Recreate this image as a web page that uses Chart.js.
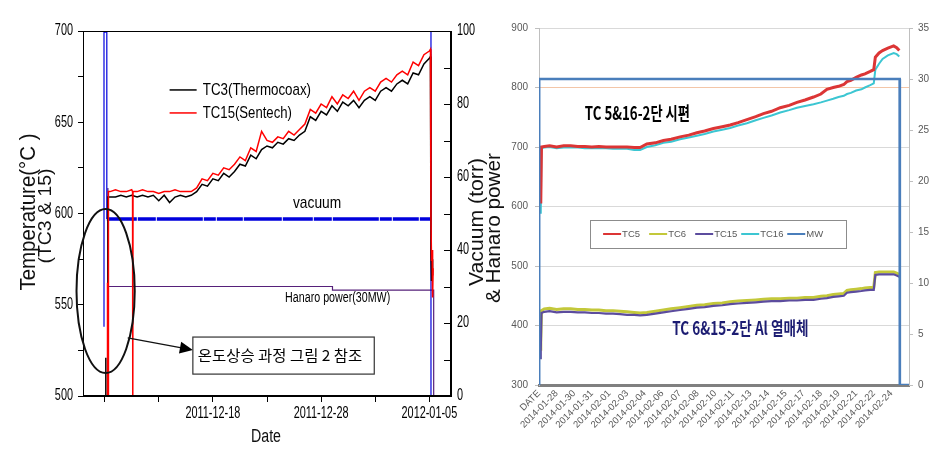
<!DOCTYPE html>
<html>
<head>
<meta charset="utf-8">
<script src="https://cdn.jsdelivr.net/npm/chart.js@4.4.1/dist/chart.umd.min.js"></script>
<style>
    body { margin: 0; background: #ffffff; }
    #wrap { position: relative; width: 952px; height: 452px; overflow: hidden; }
    #left_chart { position: absolute; left: 0; top: 0; }
    #right_chart { position: absolute; left: 480px; top: 0; }
</style>
</head>
<body>
<div id="wrap">
    <canvas id="left_chart" width="505" height="452"></canvas>
    <canvas id="right_chart" width="472" height="452"></canvas>
</div>
<script>
// ---- left chart : 2011-12 ~ 2012-01 (x = days from first tick) ----
const leftTickDays = [0, 5, 10, 15, 20, 25, 30];
const leftTickLabels = ['', '', '2011-12-18', '', '2011-12-28', '', '2012-01-05'];

const tc3Days = [0.1, 0.1, 0.12, 0.3, 0.3, 0.5, 1, 1.5, 2, 2.5, 3, 3.5, 4, 4.5, 5, 5.5, 6, 6.5, 7, 7.5, 8, 8.5, 9, 9.5,
    10, 10.5, 11, 11.5, 12, 12.5, 13, 13.5, 14, 14.5, 15, 15.5, 16, 16.5, 17, 17.5, 18, 18.5, 19, 19.5, 20, 20.5,
    21, 21.5, 22, 22.5, 23, 23.5, 24, 24.5, 25, 25.5, 26, 26.5, 27, 27.5, 28, 28.5, 29, 29.5, 30,
    30.1, 30.15, 30.2, 30.25, 30.3];
const tc3Temp = [500, 521, 500, 500, 609, 609, 609, 610, 609, 610, 609, 610, 609, 610, 607, 610, 606, 609, 610, 609, 610, 612, 616, 615,
    619, 618, 622, 620, 623, 627, 626, 632, 630, 635, 637, 636, 639, 638, 641, 640, 643, 645, 653, 651, 656, 654,
    659, 656, 661, 659, 662, 658, 662, 664, 662, 667, 669, 667, 671, 673, 671, 677, 676, 682, 685,
    686, 578, 563, 575, 566];

const tc15Days = [0.25, 0.25, 0.28, 0.35, 0.35, 0.5, 1, 1.5, 2, 2.5, 2.58, 2.6, 2.62, 3, 3.5, 4, 4.5, 5, 5.5, 6, 6.5, 7, 7.5, 8, 8.5, 9, 9.5,
    10, 10.5, 11, 11.5, 12, 12.5, 13, 13.5, 14, 14.5, 15, 15.5, 16, 16.5, 17, 17.5, 18, 18.5, 19, 19.5, 20, 20.5,
    21, 21.5, 22, 22.5, 23, 23.5, 24, 24.5, 25, 25.5, 26, 26.5, 27, 27.5, 28, 28.5, 29, 29.5, 30,
    30.1, 30.15, 30.2, 30.25, 30.3, 30.35];
const tc15Temp = [500, 562, 500, 500, 612, 612, 613, 612, 612, 613, 612, 500, 612, 612, 613, 612, 612, 611, 612, 612, 613, 612, 612, 612, 614, 619, 618,
    622, 621, 625, 624, 627, 631, 629, 636, 634, 645, 640, 639, 642, 641, 645, 643, 646, 649, 657, 655, 660, 658,
    664, 660, 665, 663, 667, 662, 667, 669, 667, 672, 674, 672, 676, 678, 676, 683, 681, 687, 689,
    690, 597, 574, 580, 554, 570];

const vacuumDays = [-0.06, -0.06, 0.2, 0.2, 30.15, 30.15, 30.15];
const vacuumValues = [19, 100, 100, 48.5, 48.5, 100, 0];

const hanaroDays = [0.3, 0.3, 21.05, 21.05, 30.4, 30.4];
const hanaroValues = [57, 30, 30, 29, 29, 0];

// ---- right chart : 2014-01 ~ 2014-02 (x = label slots) ----
const rightTickLabels = ['DATE', '2014-01-28', '2014-01-30', '2014-01-31', '2014-02-01', '2014-02-03', '2014-02-04',
    '2014-02-06', '2014-02-07', '2014-02-08', '2014-02-10', '2014-02-11', '2014-02-13', '2014-02-14', '2014-02-15',
    '2014-02-17', '2014-02-18', '2014-02-19', '2014-02-21', '2014-02-22', '2014-02-24'];

const rightPos = [0.02, 0.06, 0.1, 0.14, 0.3, 0.6, 1.0, 1.4, 1.8, 2.2, 2.6, 3.0, 3.4, 3.8, 4.2, 4.6, 5.0, 5.4, 5.74,
    6.12, 6.6, 7.06, 7.5, 8.01, 8.5, 8.96, 9.4, 9.9, 10.4, 10.85, 11.3, 11.8, 12.3, 12.74, 13.2, 13.69, 14.2, 14.64,
    15.1, 15.58, 16.0, 16.34, 16.7, 17.0, 17.3, 17.48, 17.7, 18.0, 18.3, 18.5, 18.8, 19.0, 19.09, 19.3, 19.5, 19.8,
    20.13, 20.3, 20.45];
const tc5Values = [615, 640, 605, 700, 701, 702, 700, 702, 702, 701, 701, 700, 701, 700, 700, 700, 700, 699, 699,
    705, 707, 711, 713, 717, 720, 724, 727, 731, 734, 737, 741, 746, 751, 756, 760, 766, 770, 775,
    779, 784, 789, 797, 800, 802, 805, 810, 812, 817, 821, 823, 827, 830, 851, 858, 862, 866,
    870, 867, 862];
const tc6Values = [380, 360, 372, 425, 428, 429, 427, 428, 428, 427, 427, 426, 426, 425, 425, 424, 423, 422, 421,
    422, 424, 426, 428, 430, 432, 434, 435, 437, 438, 440, 441, 442, 443, 444, 445, 445, 446, 446,
    447, 447, 449, 450, 452, 453, 454, 459, 460, 461, 462, 463, 464, 464, 489, 490, 490, 490,
    490, 488, 486];
const tc15bValues = [365, 345, 358, 421, 423, 424, 422, 423, 423, 422, 422, 421, 421, 420, 420, 419, 418, 418, 417,
    418, 420, 422, 424, 426, 428, 430, 431, 433, 434, 436, 437, 438, 439, 440, 441, 441, 442, 442,
    443, 443, 445, 446, 448, 449, 450, 455, 456, 457, 458, 459, 460, 460, 485, 486, 486, 486,
    486, 484, 482];
const tc16Values = [598, 622, 588, 698, 699, 700, 698, 699, 699, 699, 698, 698, 698, 698, 697, 697, 697, 695, 695,
    700, 703, 707, 709, 713, 716, 719, 722, 726, 729, 732, 736, 740, 745, 749, 753, 758, 762, 766,
    769, 772, 775, 778, 781, 784, 786, 789, 791, 795, 797, 800, 804, 807, 830, 840, 848, 854,
    858, 856, 852];
const mwPos = [0, 0.01, 20.47, 20.48, 21];
const mwValues = [0, 30, 30, 0, 0];

const plain = "'Liberation Sans', Arial, sans-serif";
const korean = "'Noto Sans CJK KR', 'Noto Sans', sans-serif";
const hidden = 'rgba(0,0,0,0)';

function pts(xs, ys) {
    return xs.map((x, i) => ({x: x, y: ys[i]}));
}

// draw text centred at (cx, cy), squeezed/stretched to the given width
function fitText(ctx, text, cx, cy, width) {
    const w = ctx.measureText(text).width;
    ctx.save();
    ctx.translate(cx, cy);
    ctx.scale(width / w, 1);
    ctx.textAlign = 'center';
    ctx.textBaseline = 'middle';
    ctx.fillText(text, 0, 0);
    ctx.restore();
}

// narrow tick text, like the old plotting program
function narrowText(ctx, text, x, y, align) {
    ctx.save();
    ctx.translate(x, y);
    ctx.scale(0.68, 1);
    ctx.textAlign = align;
    ctx.textBaseline = 'middle';
    ctx.fillText(text, 0, 0);
    ctx.restore();
}

const leftDecor = {
    id: 'leftDecor',
    afterDraw(chart) {
        const ctx = chart.ctx, a = chart.chartArea;
        const sx = chart.scales.x, sy = chart.scales.y, sy1 = chart.scales.y1;
        const px = d => sx.getPixelForValue(d);
        const py = v => sy.getPixelForValue(v);
        ctx.save();

        // frame
        ctx.strokeStyle = '#000';
        ctx.lineWidth = 1;
        ctx.strokeRect(Math.round(a.left) + 0.5, Math.round(a.top) + 0.5,
            Math.round(a.right - a.left) - 1, Math.round(a.bottom - a.top) - 1);

        // inward ticks on the right axis
        ctx.beginPath();
        sy1.ticks.forEach(t => {
            const yy = Math.round(sy1.getPixelForValue(t.value)) + 0.5;
            ctx.moveTo(a.right - 7, yy);
            ctx.lineTo(a.right, yy);
        });
        ctx.stroke();

        // tick labels (narrow)
        ctx.fillStyle = '#000';
        ctx.font = '16px ' + plain;
        sx.ticks.forEach(t => narrowText(ctx, t.label, px(t.value), a.bottom + 18, 'center'));
        sy.ticks.forEach(t => narrowText(ctx, t.label, a.left - 10, py(t.value), 'right'));
        sy1.ticks.forEach(t => narrowText(ctx, t.label, a.right + 6, sy1.getPixelForValue(t.value), 'left'));

        // legend (TC3, TC15)
        const legendRows = [['TC3(Thermocoax)', 667.7, 19.07], ['TC15(Sentech)', 655.1, 17.3]];
        ctx.font = '17px ' + plain;
        legendRows.forEach(row => {
            const ds = chart.data.datasets.find(d => d.label === row[0]);
            const yy = py(row[1]);
            ctx.strokeStyle = ds.borderColor;
            ctx.lineWidth = 1.5;
            ctx.beginPath();
            ctx.moveTo(px(6.0), yy);
            ctx.lineTo(px(8.5), yy);
            ctx.stroke();
            ctx.fillStyle = '#000';
            fitText(ctx, row[0], (px(9.07) + px(row[2])) / 2, yy, px(row[2]) - px(9.07));
        });

        // series notes
        ctx.fillStyle = '#000';
        ctx.font = '17px ' + plain;
        fitText(ctx, 'vacuum', (px(17.4) + px(21.85)) / 2, py(605.8), px(21.85) - px(17.4));
        ctx.font = '14px ' + plain;
        fitText(ctx, 'Hanaro power(30MW)', (px(16.67) + px(26.39)) / 2, py(553.7), px(26.39) - px(16.67));

        // ellipse around start-up
        ctx.strokeStyle = '#111';
        ctx.lineWidth = 2;
        ctx.beginPath();
        ctx.ellipse(px(0.09), py(557.5), px(2.69) - px(0), py(500) - py(544.9), 0, 0, Math.PI * 2);
        ctx.stroke();

        // arrow to the note box
        const ax0 = px(2.13), ay0 = py(531.8), ax1 = px(8.15), ay1 = py(525.2);
        const ang = Math.atan2(ay1 - ay0, ax1 - ax0);
        ctx.lineWidth = 1.3;
        ctx.beginPath();
        ctx.moveTo(ax0, ay0);
        ctx.lineTo(ax1 - 10 * Math.cos(ang), ay1 - 10 * Math.sin(ang));
        ctx.stroke();
        ctx.fillStyle = '#000';
        ctx.beginPath();
        ctx.moveTo(ax1, ay1);
        ctx.lineTo(ax1 - 13 * Math.cos(ang) + 6 * Math.sin(ang), ay1 - 13 * Math.sin(ang) - 6 * Math.cos(ang));
        ctx.lineTo(ax1 - 13 * Math.cos(ang) - 6 * Math.sin(ang), ay1 - 13 * Math.sin(ang) + 6 * Math.cos(ang));
        ctx.closePath();
        ctx.fill();

        // note box
        const bx0 = px(8.15), bx1 = px(24.91), by0 = py(532.3), by1 = py(512);
        ctx.fillStyle = '#fff';
        ctx.fillRect(bx0, by0, bx1 - bx0, by1 - by0);
        ctx.strokeStyle = '#333';
        ctx.lineWidth = 1.2;
        ctx.strokeRect(bx0, by0, bx1 - bx0, by1 - by0);
        ctx.fillStyle = '#000';
        ctx.font = '15px ' + korean;
        fitText(ctx, '온도상승 과정 그림 2 참조', (px(8.61) + px(23.8)) / 2, py(522.5), px(23.8) - px(8.61));

        // axis titles
        ctx.fillStyle = '#111';
        ctx.font = '22px ' + plain;
        ctx.save();
        ctx.translate(29, 212);
        ctx.rotate(-Math.PI / 2);
        fitText(ctx, 'Temperature(°C )', 0, 0, 157);
        ctx.restore();
        ctx.font = '19px ' + plain;
        ctx.save();
        ctx.translate(46, 216);
        ctx.rotate(-Math.PI / 2);
        fitText(ctx, '(TC3 & 15)', 0, 0, 95);
        ctx.restore();
        ctx.font = '20px ' + plain;
        ctx.save();
        ctx.translate(477, 222);
        ctx.rotate(-Math.PI / 2);
        fitText(ctx, 'Vacuum (torr)', 0, 0, 128);
        ctx.restore();
        ctx.save();
        ctx.translate(494, 228);
        ctx.rotate(-Math.PI / 2);
        fitText(ctx, '& Hanaro power', 0, 0, 150);
        ctx.restore();
        ctx.font = '18px ' + plain;
        fitText(ctx, 'Date', 266, 437, 30);

        ctx.restore();
    }
};

new Chart(document.getElementById('left_chart').getContext('2d'), {
    type: 'line',
    data: {
        datasets: [
            {
                label: 'TC15(Sentech)',
                data: pts(tc15Days, tc15Temp),
                borderColor: '#ff0000',
                borderWidth: 1.5,
                yAxisID: 'y',
                order: 1
            },
            {
                label: 'TC3(Thermocoax)',
                data: pts(tc3Days, tc3Temp),
                borderColor: '#000000',
                borderWidth: 1.5,
                yAxisID: 'y',
                order: 2
            },
            {
                label: 'vacuum',
                data: pts(vacuumDays, vacuumValues),
                borderColor: '#0000dd',
                borderWidth: 3.5,
                yAxisID: 'y1',
                order: 3,
                segment: {
                    borderWidth: c => c.p0.parsed.x === c.p1.parsed.x ? 1.2 : 3.5,
                    borderDash: c => c.p0.parsed.x === c.p1.parsed.x ? [] : [30, 1, 18, 1, 46, 1, 12, 1, 26, 1, 38, 1]
                }
            },
            {
                label: 'Hanaro power(30MW)',
                data: pts(hanaroDays, hanaroValues),
                borderColor: '#56207a',
                borderWidth: 1.2,
                yAxisID: 'y1',
                order: 4
            }
        ]
    },
    options: {
        responsive: false,
        animation: false,
        elements: {point: {radius: 0}, line: {tension: 0}},
        layout: {padding: {top: 31, left: 0, right: 0, bottom: 0}},
        plugins: {legend: {display: false}, tooltip: {enabled: false}},
        scales: {
            x: {
                type: 'linear',
                min: -2,
                max: 32,
                afterBuildTicks: s => { s.ticks = leftTickDays.map(v => ({value: v})); },
                afterFit: s => { s.height = 56; },
                ticks: {
                    autoSkip: false,
                    maxRotation: 0,
                    padding: 4,
                    color: hidden,
                    font: {family: plain, size: 14},
                    callback: v => leftTickLabels[leftTickDays.indexOf(v)] || ''
                },
                grid: {drawOnChartArea: false, tickLength: 6, color: '#000'},
                border: {color: '#000'}
            },
            y: {
                position: 'left',
                min: 500,
                max: 700,
                afterFit: s => { s.width = 83; },
                ticks: {
                    stepSize: 25,
                    padding: 5,
                    color: hidden,
                    font: {family: plain, size: 14},
                    callback: v => v % 50 === 0 ? v : ''
                },
                grid: {drawOnChartArea: false, tickLength: 5, color: '#000'},
                border: {color: '#000'}
            },
            y1: {
                position: 'right',
                min: 0,
                max: 100,
                afterFit: s => { s.width = 54; },
                ticks: {
                    stepSize: 10,
                    padding: 6,
                    color: hidden,
                    font: {family: plain, size: 14},
                    callback: v => v % 20 === 0 ? v : ''
                },
                grid: {display: false, drawTicks: false},
                border: {color: '#000'}
            }
        }
    },
    plugins: [leftDecor]
});

const rightDecor = {
    id: 'rightDecor',
    afterDraw(chart) {
        const ctx = chart.ctx;
        const sx = chart.scales.x, sy = chart.scales.y;
        const px = d => sx.getPixelForValue(d);
        const py = v => sy.getPixelForValue(v);
        ctx.save();

        // legend box
        const lx0 = px(2.9), lx1 = px(17.44), ly0 = py(577.3), ly1 = py(530.3);
        ctx.fillStyle = '#fff';
        ctx.fillRect(lx0, ly0, lx1 - lx0, ly1 - ly0);
        ctx.strokeStyle = '#8c8c8c';
        ctx.lineWidth = 1;
        ctx.strokeRect(Math.round(lx0) + 0.5, Math.round(ly0) + 0.5, Math.round(lx1 - lx0), Math.round(ly1 - ly0));
        const pitch = (lx1 - lx0 - 26) / chart.data.datasets.length;
        const ly = (ly0 + ly1) / 2;
        ctx.font = '9.5px ' + plain;
        ctx.textAlign = 'left';
        ctx.textBaseline = 'middle';
        chart.data.datasets.forEach((ds, i) => {
            const x0 = lx0 + 13 + i * pitch;
            ctx.strokeStyle = ds.borderColor;
            ctx.lineWidth = 2;
            ctx.beginPath();
            ctx.moveTo(x0, ly);
            ctx.lineTo(x0 + 18, ly);
            ctx.stroke();
            ctx.fillStyle = '#595959';
            ctx.fillText(ds.label, x0 + 19, ly + 0.5);
        });

        // group notes
        ctx.font = 'bold 18px ' + korean;
        ctx.fillStyle = '#000';
        fitText(ctx, 'TC 5&16-2단 시편', (px(2.6) + px(8.57)) / 2, py(757), px(8.57) - px(2.6));
        ctx.fillStyle = '#1c1c72';
        fitText(ctx, 'TC 6&15-2단 Al 열매체', (px(7.56) + px(15.29)) / 2, py(396), px(15.29) - px(7.56));

        ctx.restore();
    }
};

new Chart(document.getElementById('right_chart').getContext('2d'), {
    type: 'line',
    data: {
        datasets: [
            {label: 'TC5', data: pts(rightPos, tc5Values), borderColor: '#dc3535', borderWidth: 3, yAxisID: 'y', order: 3},
            {label: 'TC6', data: pts(rightPos, tc6Values), borderColor: '#c3c83a', borderWidth: 3, yAxisID: 'y', order: 5},
            {label: 'TC15', data: pts(rightPos, tc15bValues), borderColor: '#5c4c9e', borderWidth: 2.2, yAxisID: 'y', order: 4},
            {label: 'TC16', data: pts(rightPos, tc16Values), borderColor: '#3cc6d2', borderWidth: 2, yAxisID: 'y', order: 6},
            {label: 'MW', data: pts(mwPos, mwValues), borderColor: '#4a7ebb', borderWidth: 2.6, yAxisID: 'y1', order: 1}
        ]
    },
    options: {
        responsive: false,
        animation: false,
        elements: {point: {radius: 0}, line: {tension: 0}},
        layout: {padding: {top: 28, left: 0, right: 0, bottom: 0}},
        plugins: {legend: {display: false}, tooltip: {enabled: false}},
        scales: {
            x: {
                type: 'linear',
                min: 0,
                max: 21,
                afterBuildTicks: s => { s.ticks = rightTickLabels.map((_, i) => ({value: i})); },
                afterFit: s => { s.height = 67; },
                ticks: {
                    autoSkip: false,
                    minRotation: 45,
                    maxRotation: 45,
                    padding: 3,
                    color: '#595959',
                    font: {family: plain, size: 9.5},
                    callback: v => rightTickLabels[v] || ''
                },
                grid: {display: false, drawTicks: false},
                border: {color: '#808080', width: 3}
            },
            y: {
                position: 'left',
                min: 300,
                max: 900,
                afterFit: s => { s.width = 59; },
                ticks: {stepSize: 100, padding: 7, color: '#595959', font: {family: plain, size: 10}},
                grid: {
                    color: c => c.tick && c.tick.value === 800 ? '#f3c6a8' : '#d9d9d9',
                    tickColor: '#bfbfbf',
                    tickLength: 4
                },
                border: {color: '#bfbfbf'}
            },
            y1: {
                position: 'right',
                min: 0,
                max: 35,
                afterFit: s => { s.width = 43; },
                ticks: {stepSize: 5, padding: 5, color: '#595959', font: {family: plain, size: 10}},
                grid: {drawOnChartArea: false, tickColor: '#bfbfbf', tickLength: 4},
                border: {color: '#bfbfbf'}
            }
        }
    },
    plugins: [rightDecor]
});
</script>
</body>
</html>
